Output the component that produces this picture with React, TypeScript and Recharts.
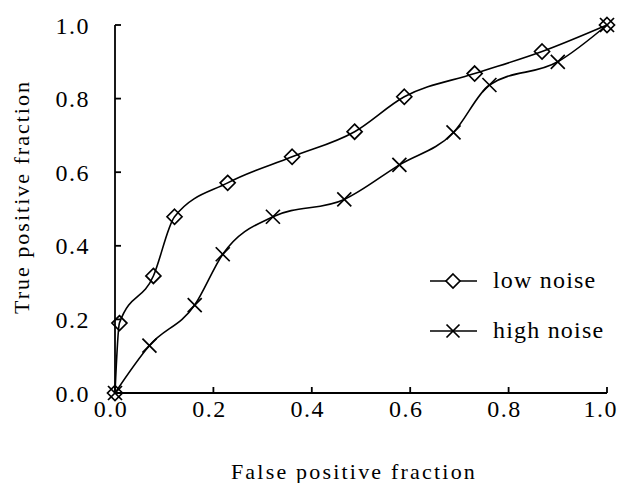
import React from 'react';
import { LineChart, Line, XAxis, YAxis, Legend, Label } from 'recharts';

const lowNoiseFPF = [0, 0.009, 0.078, 0.121, 0.229, 0.36, 0.487, 0.588, 0.731, 0.868, 1.0];
const lowNoiseTPF = [0, 0.19, 0.318, 0.479, 0.571, 0.642, 0.71, 0.805, 0.868, 0.928, 1.0];
const highNoiseFPF = [0, 0.07, 0.162, 0.219, 0.321, 0.466, 0.578, 0.688, 0.761, 0.9, 1.0];
const highNoiseTPF = [0, 0.129, 0.239, 0.377, 0.479, 0.526, 0.62, 0.708, 0.837, 0.9, 1.0];
const axisTicks = [0, 0.2, 0.4, 0.6, 0.8, 1.0];
const seriesNames = ['low noise', 'high noise'];
const xTitle = 'False positive fraction';
const yTitle = 'True positive fraction';

const lowData = lowNoiseFPF.map((x, i) => ({ x, y: lowNoiseTPF[i] }));
const highData = highNoiseFPF.map((x, i) => ({ x, y: highNoiseTPF[i] }));

const FONT = '"Liberation Serif", "Times New Roman", serif';

const Diamond = ({ cx, cy, r = 7.5, fill = 'none' }: any) => (
  <polygon
    points={`${cx},${cy - r} ${cx + r},${cy} ${cx},${cy + r} ${cx - r},${cy}`}
    fill={fill}
    stroke="#000"
    strokeWidth={1.7}
  />
);

const Cross = ({ cx, cy, r = 7 }: any) => (
  <g stroke="#000" strokeWidth={1.7}>
    <line x1={cx - r} y1={cy - r} x2={cx + r} y2={cy + r} />
    <line x1={cx - r} y1={cy + r} x2={cx + r} y2={cy - r} />
  </g>
);

const renderLegend = () => (
  <svg width={200} height={90} style={{ overflow: 'visible' }}>
    {seriesNames.map((name, i) => {
      const cy = 21 + i * 50;
      return (
        <g key={name}>
          <line x1={10} y1={cy} x2={57} y2={cy} stroke="#000" strokeWidth={1.7} />
          {i === 0 ? <Diamond cx={33} cy={cy} r={7} fill="#fff" /> : <Cross cx={33} cy={cy} r={6.5} />}
          <text x={73} y={cy + 7} fontFamily={FONT} fontSize={24} letterSpacing={1.2} fill="#000">
            {name}
          </text>
        </g>
      );
    })}
  </svg>
);

const tickStyle = { fill: '#000', fontSize: 24, fontFamily: FONT, letterSpacing: 1.5 };

export default function App() {
  return (
    <div style={{ position: 'absolute', left: 0, top: 0, background: '#fff' }}>
      <LineChart width={622} height={483} margin={{ top: 25, right: 15, bottom: 0, left: 0 }}>
        <XAxis
          type="number"
          dataKey="x"
          domain={[0, 1]}
          ticks={axisTicks}
          tickFormatter={(v: number) => v.toFixed(1)}
          height={90}
          tickSize={-6}
          tickMargin={13}
          tick={{ ...tickStyle, dx: -4 }}
          axisLine={{ stroke: '#000', strokeWidth: 1.8 }}
          tickLine={{ stroke: '#000', strokeWidth: 1.8 }}
        >
          <Label
            value={xTitle}
            position="center"
            dx={-7}
            dy={33}
            style={{ fontFamily: FONT, fontSize: 22, letterSpacing: 2.2, fill: '#000' }}
          />
        </XAxis>
        <YAxis
          type="number"
          dataKey="y"
          domain={[0, 1]}
          ticks={axisTicks}
          tickFormatter={(v: number) => v.toFixed(1)}
          width={115}
          tickSize={-6}
          tickMargin={31}
          tick={tickStyle}
          axisLine={{ stroke: '#000', strokeWidth: 1.8 }}
          tickLine={{ stroke: '#000', strokeWidth: 1.8 }}
        >
          <Label
            value={yTitle}
            position="center"
            angle={-90}
            dx={-36}
            dy={-12}
            style={{ fontFamily: FONT, fontSize: 22, letterSpacing: 2.0, fill: '#000', textAnchor: 'middle' }}
          />
        </YAxis>
        <Legend
          content={renderLegend}
          wrapperStyle={{ position: 'absolute', left: 420, top: 260, width: 0, height: 0, overflow: 'visible' }}
        />
        <Line
          name={seriesNames[0]}
          data={lowData}
          dataKey="y"
          type="monotone"
          stroke="#000"
          strokeWidth={1.6}
          isAnimationActive={false}
          dot={(p: any) => <Diamond key={`d${p.index}`} cx={p.cx} cy={p.cy} />}
          activeDot={false}
        />
        <Line
          name={seriesNames[1]}
          data={highData}
          dataKey="y"
          type="monotone"
          stroke="#000"
          strokeWidth={1.6}
          isAnimationActive={false}
          dot={(p: any) => <Cross key={`c${p.index}`} cx={p.cx} cy={p.cy} />}
          activeDot={false}
        />
      </LineChart>
    </div>
  );
}
